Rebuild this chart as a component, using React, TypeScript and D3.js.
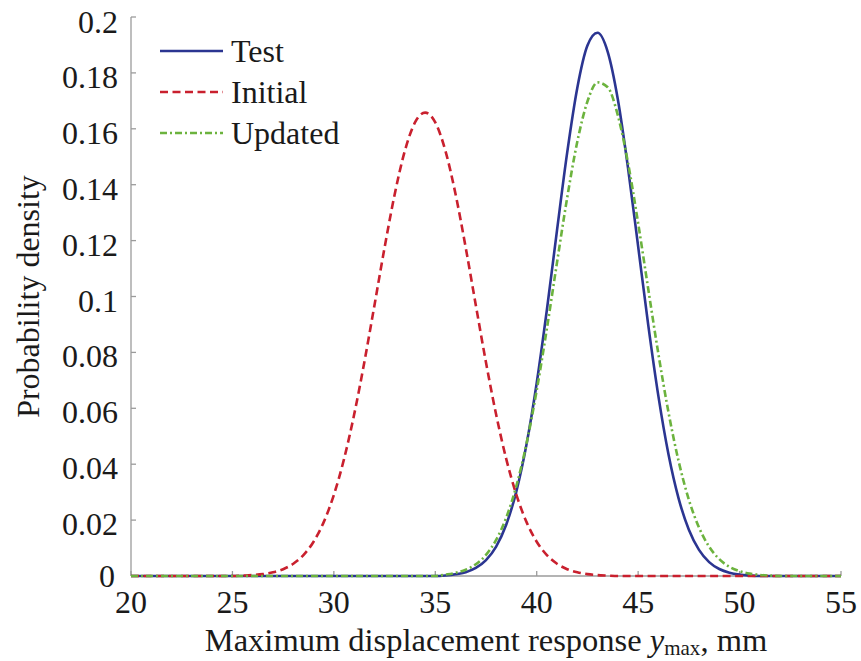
import React from "react";
import * as d3 from "d3";

// ---- data ----
const xTicks = [20, 25, 30, 35, 40, 45, 50, 55];
const yTicks = [0, 0.02, 0.04, 0.06, 0.08, 0.1, 0.12, 0.14, 0.16, 0.18, 0.2];
const yTickLabels = ["0", "0.02", "0.04", "0.06", "0.08", "0.1", "0.12", "0.14", "0.16", "0.18", "0.2"];

const testX = [20, 35, 35.5, 36, 36.5, 37, 37.5, 38, 38.5, 39, 39.5, 40, 40.5, 41, 41.5, 42, 42.5, 43, 43.5, 44, 44.5, 45, 45.5, 46, 46.5, 47, 47.5, 48, 48.5, 49, 49.5, 50, 50.5, 51, 55];
const testY = [0, 0, 0.0002, 0.00062, 0.00138, 0.00288, 0.00567, 0.01054, 0.01843, 0.03038, 0.04718, 0.06906, 0.09518, 0.12366, 0.15138, 0.17461, 0.18977, 0.19434, 0.18753, 0.17051, 0.14607, 0.11791, 0.08968, 0.06427, 0.04339, 0.02761, 0.01656, 0.00936, 0.00498, 0.0025, 0.00118, 0.00052, 0.0002, 0, 0];

const initialX = [20, 25, 25.5, 26, 26.5, 27, 27.5, 28, 28.5, 29, 29.5, 30, 30.5, 31, 31.5, 32, 32.5, 33, 33.5, 34, 34.5, 35, 35.5, 36, 36.5, 37, 37.5, 38, 38.5, 39, 39.5, 40, 40.5, 41, 41.5, 42, 42.5, 43, 43.5, 44, 55];
const initialY = [0, 0, 0.00015, 0.00033, 0.00067, 0.00131, 0.00244, 0.00437, 0.00748, 0.01227, 0.01927, 0.02901, 0.04181, 0.05775, 0.0764, 0.09681, 0.11749, 0.1366, 0.15212, 0.16227, 0.1658, 0.16227, 0.15212, 0.1366, 0.11749, 0.09681, 0.0764, 0.05775, 0.04181, 0.02901, 0.01927, 0.01227, 0.00748, 0.00437, 0.00244, 0.00131, 0.00067, 0.00033, 0.00015, 0, 0];

const updatedX = [20, 35, 35.5, 36, 36.5, 37, 37.5, 38, 38.5, 39, 39.5, 40, 40.5, 41, 41.5, 42, 42.5, 43, 43.5, 44, 44.5, 45, 45.5, 46, 46.5, 47, 47.5, 48, 48.5, 49, 49.5, 50, 50.5, 51, 51.5, 52, 55];
const updatedY = [0, 0, 0.0005, 0.00114, 0.00224, 0.00422, 0.00756, 0.01289, 0.0209, 0.0323, 0.04747, 0.06643, 0.08846, 0.11213, 0.13526, 0.15534, 0.16976, 0.17661, 0.17488, 0.1648, 0.14785, 0.12624, 0.10259, 0.07935, 0.05843, 0.04094, 0.02731, 0.01735, 0.01048, 0.00602, 0.0033, 0.00172, 0.00085, 0.0004, 0.00015, 0, 0];

const seriesNames = ["Test", "Initial", "Updated"];
const seriesColors = ["#2b3591", "#c9202e", "#6cb33e"];
const seriesDash = ["none", "8 4.5", "7 3 2 3"];

// ---- layout ----
const W = 861;
const H = 661;
const M = { left: 131, right: 841, top: 17, bottom: 576 };
const FONT = "'Liberation Serif', 'Times New Roman', serif";
const FS = 32;
const AXIS = "#9b9b9b";
const TXT = "#1a1a1a";

export default function App() {
  const x = d3.scaleLinear().domain([20, 55]).range([M.left, M.right]);
  const y = d3.scaleLinear().domain([0, 0.2]).range([M.bottom, M.top]);
  const line = d3
    .line<[number, number]>()
    .x((d) => x(d[0]))
    .y((d) => y(d[1]))
    .curve(d3.curveMonotoneX);

  const series = [
    { xs: testX, ys: testY },
    { xs: initialX, ys: initialY },
    { xs: updatedX, ys: updatedY },
  ];

  const legendY = [51, 92, 133];

  return (
    <svg
      width={W}
      height={H}
      style={{ position: "absolute", left: 0, top: 0, background: "#fff" }}
      fontFamily={FONT}
    >
      {/* axes */}
      <line x1={M.left} x2={M.left} y1={M.top} y2={M.bottom} stroke={AXIS} strokeWidth={1.3} />
      <line x1={M.left} x2={M.right} y1={M.bottom} y2={M.bottom} stroke={AXIS} strokeWidth={1.3} />
      {yTicks.map((t, i) => (
        <g key={"y" + i}>
          <line x1={M.left} x2={M.left + 5} y1={y(t)} y2={y(t)} stroke={AXIS} strokeWidth={1.3} />
          <text
            x={t === 0 ? 115 : 118}
            y={y(t) + (t === 0 ? -4 : t === 0.2 ? 1 : 0)}
            dy="0.47em"
            textAnchor="end"
            fontSize={FS}
            fill={TXT}
          >
            {yTickLabels[i]}
          </text>
        </g>
      ))}
      {xTicks.map((t, i) => (
        <g key={"x" + i}>
          <line x1={x(t)} x2={x(t)} y1={M.bottom} y2={M.bottom - 5} stroke={AXIS} strokeWidth={1.3} />
          <text x={x(t)} y={613} textAnchor="middle" fontSize={FS} fill={TXT}>
            {String(t)}
          </text>
        </g>
      ))}

      {/* curves */}
      {series.map((s, i) => (
        <path
          key={"s" + i}
          d={line(s.xs.map((v, j) => [v, s.ys[j]] as [number, number])) || ""}
          fill="none"
          stroke={seriesColors[i]}
          strokeWidth={2.6}
          strokeDasharray={seriesDash[i]}
        />
      ))}

      {/* legend */}
      {seriesNames.map((n, i) => (
        <g key={"l" + i}>
          <line
            x1={160}
            x2={223}
            y1={legendY[i]}
            y2={legendY[i]}
            stroke={seriesColors[i]}
            strokeWidth={2.6}
            strokeDasharray={seriesDash[i]}
          />
          <text x={231} y={legendY[i] + 11} fontSize={FS} fill={TXT}>
            {n}
          </text>
        </g>
      ))}

      {/* axis titles */}
      <text x={486} y={651} textAnchor="middle" fontSize={32.5} fill={TXT}>
        Maximum displacement response{" "}
        <tspan fontStyle="italic">y</tspan>
        <tspan fontSize={21} dy={4}>max</tspan>
        <tspan dy={-4}>, mm</tspan>
      </text>
      <text
        transform={`translate(39, ${(M.top + M.bottom) / 2}) rotate(-90)`}
        textAnchor="middle"
        fontSize={FS}
        fill={TXT}
      >
        Probability density
      </text>
    </svg>
  );
}
